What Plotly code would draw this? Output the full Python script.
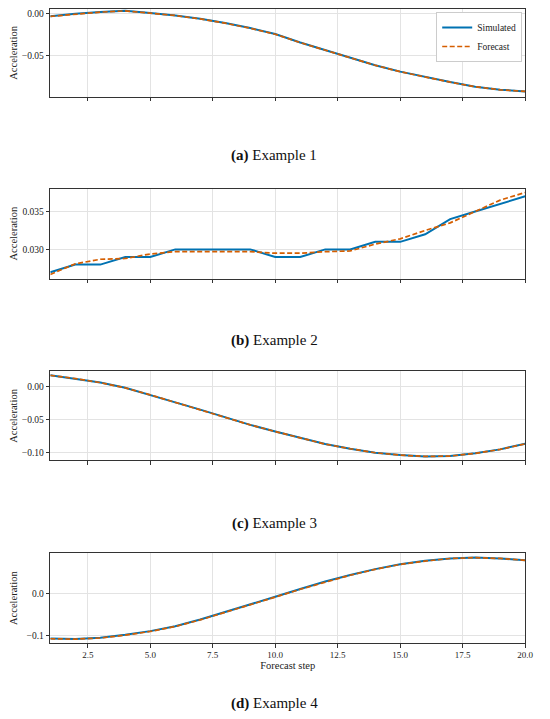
import plotly.graph_objects as go

steps = list(range(1, 21))

# Example 1
sim_1 = [-0.003, 0.000, 0.002, 0.0035, 0.001, -0.002, -0.006, -0.011, -0.017, -0.024,
         -0.034, -0.043, -0.052, -0.061, -0.0686, -0.075, -0.081, -0.0865, -0.090, -0.092]
fc_1 = [-0.0032, -0.0002, 0.0019, 0.0034, 0.0009, -0.0021, -0.0062, -0.0112, -0.0172, -0.0243,
        -0.0342, -0.0432, -0.0522, -0.0611, -0.0687, -0.0751, -0.0811, -0.0865, -0.0901, -0.0921]

# Example 2
sim_2 = [0.027, 0.028, 0.028, 0.029, 0.029, 0.030, 0.030, 0.030, 0.030, 0.029,
         0.029, 0.030, 0.030, 0.031, 0.031, 0.032, 0.034, 0.035, 0.036, 0.037]
fc_2 = [0.0267, 0.0281, 0.0287, 0.0288, 0.0294, 0.0297, 0.0297, 0.0297, 0.0297, 0.0295,
        0.0295, 0.0297, 0.0298, 0.0307, 0.0314, 0.0325, 0.0335, 0.0350, 0.0365, 0.0375]

# Example 3
sim_3 = [0.017, 0.012, 0.006, -0.002, -0.0125, -0.024, -0.035, -0.047, -0.058, -0.068,
         -0.078, -0.087, -0.094, -0.100, -0.1036, -0.1056, -0.105, -0.101, -0.095, -0.0865]
fc_3 = [0.0168, 0.0119, 0.0058, -0.0022, -0.0127, -0.0242, -0.0352, -0.0471, -0.0581, -0.0681,
        -0.0781, -0.0871, -0.0941, -0.1001, -0.1037, -0.1057, -0.1051, -0.1011, -0.0951, -0.0866]

# Example 4
sim_4 = [-0.108, -0.109, -0.106, -0.099, -0.090, -0.078, -0.062, -0.044, -0.026, -0.007,
         0.012, 0.030, 0.046, 0.060, 0.072, 0.080, 0.086, 0.088, 0.086, 0.0815]
fc_4 = [-0.1085, -0.1095, -0.1067, -0.0998, -0.0908, -0.0788, -0.0628, -0.0448, -0.0268, -0.0078,
        0.0112, 0.0292, 0.0453, 0.0594, 0.0715, 0.0796, 0.0857, 0.0878, 0.0859, 0.0814]

captions = ["<b>(a)</b> Example 1", "<b>(b)</b> Example 2", "<b>(c)</b> Example 3", "<b>(d)</b> Example 4"]

BLUE = "#0072B2"
ORANGE = "#D55E00"
FONT = "Liberation Serif"

panels = [
    # sim, fc, y range, dtick, tickformat, top px, bottom px, caption px (page coords)
    (sim_1, fc_1, [-0.0985, 0.0056], 0.05, ".2f", 8, 96, 155),
    (sim_2, fc_2, [0.02615, 0.038], 0.005, ".3f", 188, 278, 340),
    (sim_3, fc_3, [-0.1116, 0.0226], 0.05, ".2f", 371, 460, 523),
    (sim_4, fc_4, [-0.119, 0.0985], 0.1, ".1f", 553, 643, 703),
]

# page body has an 8px margin on every side; size the figure so the page fits the window
OFF = 8
W = 550 - 2 * OFF
H = 719 - 2 * OFF
x0, x1 = (50 - OFF) / W, (533 - OFF) / W

fig = go.Figure()
layout = {}
annotations = []
for i, (sim, fc, yr, dt, fmt, top, bot, cap) in enumerate(panels):
    n = "" if i == 0 else str(i + 1)
    fig.add_trace(go.Scatter(x=steps, y=sim, mode="lines", name="Simulated",
                             line=dict(color=BLUE, width=2), showlegend=(i == 0),
                             xaxis="x" + n, yaxis="y" + n))
    fig.add_trace(go.Scatter(x=steps, y=fc, mode="lines", name="Forecast",
                             line=dict(color=ORANGE, width=1.7, dash="5px,2.5px"), showlegend=(i == 0),
                             xaxis="x" + n, yaxis="y" + n))
    last = (i == 3)
    layout["xaxis" + n] = dict(
        domain=[x0, x1], anchor="y" + n, range=[1, 20], tick0=0, dtick=2.5,
        showticklabels=last, tickformat=".1f", ticks="outside", ticklen=3.5, tickwidth=1,
        ticklabeloverflow="allow",
        tickcolor="#333", showline=True, linecolor="#333", linewidth=1.2, mirror=True,
        showgrid=True, gridcolor="#e3e3e3", gridwidth=0.8, zeroline=False,
        tickfont=dict(family=FONT, size=9, color="#222"),
        title=dict(text="Forecast step" if last else "", font=dict(family=FONT, size=10.5, color="#222"), standoff=1),
    )
    layout["yaxis" + n] = dict(
        domain=[1 - (bot - OFF) / H, min(1, 1 - (top - OFF) / H)], anchor="x" + n, range=yr, tick0=0, dtick=dt,
        tickformat=fmt, ticks="outside", ticklen=3.5, tickwidth=1, tickcolor="#333",
        showline=True, linecolor="#333", linewidth=1.2, mirror=True,
        showgrid=True, gridcolor="#e3e3e3", gridwidth=0.8, zeroline=False,
        tickfont=dict(family=FONT, size=9.5, color="#222"),
        title=dict(text="Acceleration", font=dict(family=FONT, size=10.5, color="#222"), standoff=6),
    )
    annotations.append(dict(text=captions[i], x=(278 - OFF) / W, y=1 - (cap - OFF) / H,
                            xref="paper", yref="paper",
                            showarrow=False, xanchor="center", yanchor="middle",
                            font=dict(family=FONT, size=15, color="#111")))

fig.update_layout(
    width=W, height=H,
    margin=dict(l=0, r=0, t=0, b=0),
    paper_bgcolor="white", plot_bgcolor="white",
    annotations=annotations,
    legend=dict(x=(530 - OFF) / W, y=1 - (11 - OFF) / H, xanchor="right", yanchor="top",
                bgcolor="white", bordercolor="#cccccc", borderwidth=1,
                font=dict(family=FONT, size=9.5, color="#222"), itemwidth=30,
                tracegroupgap=0),
    **layout,
)

fig.write_html("out.html")
